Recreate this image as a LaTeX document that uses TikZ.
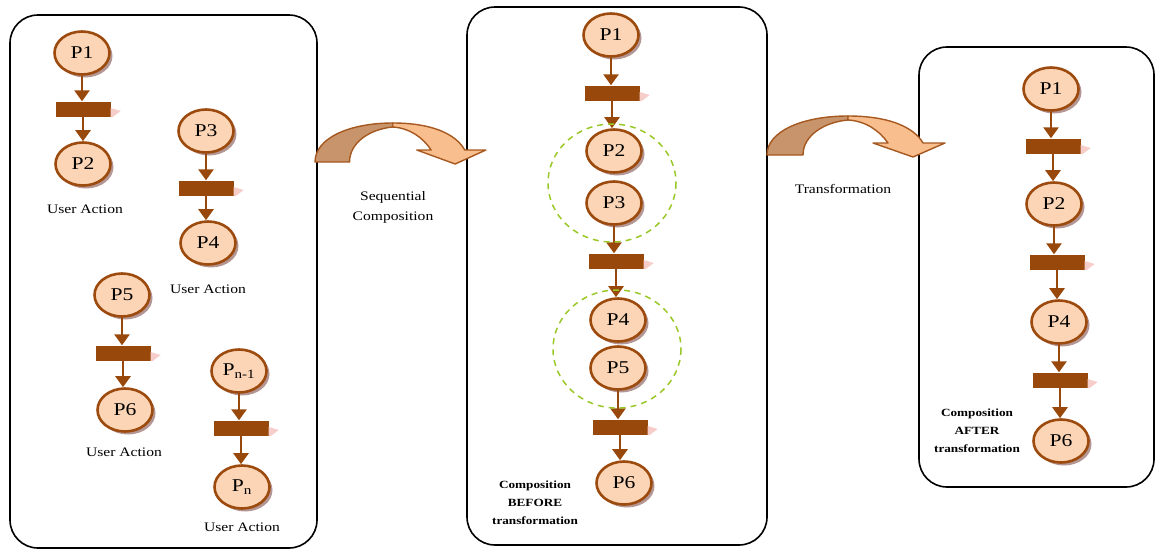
\documentclass[tikz,border=0pt]{standalone}
\usepackage{fontspec}
\setmainfont{Liberation Serif}
\usetikzlibrary{shapes.geometric,arrows.meta,shadows}
\definecolor{peach}{RGB}{251,213,181}
\definecolor{pbrown}{RGB}{156,74,14}
\definecolor{bbrown}{RGB}{152,72,10}
\definecolor{shadowc}{RGB}{180,150,148}
\definecolor{pinkish}{RGB}{246,205,200}
\definecolor{darkband}{RGB}{200,148,107}
\definecolor{lightband}{RGB}{249,190,141}
\definecolor{arrline}{RGB}{165,88,31}
\definecolor{dgreen}{RGB}{154,200,40}
\newcommand\hs[1]{\scalebox{1.2}[1]{#1}}
\begin{document}
\begin{tikzpicture}[x=1pt,y=-1pt,
 place/.style={ellipse, draw=pbrown, line width=2.6pt, fill=peach, minimum width=55pt, minimum height=43pt, inner sep=0pt, font=\fontsize{18}{20}\selectfont, drop shadow={shadow xshift=3pt, shadow yshift=-3pt, fill=shadowc, opacity=1}},
 trans/.style={rectangle, fill=bbrown, minimum width=55pt, minimum height=15pt, inner sep=0pt},
 flow/.style={draw=bbrown, line width=2.6pt, -{Triangle[width=15pt,length=11pt]}},
 lbl/.style={font=\fontsize{13}{20}\selectfont, align=center, inner sep=0pt},
 blbl/.style={font=\fontsize{11}{18}\selectfont\bfseries, align=center, inner sep=0pt},
 panel/.style={draw=black, line width=1.6pt, rounded corners=28pt},
 group/.style={draw=dgreen, line width=1.5pt, dash pattern=on 6pt off 5pt},
 bandline/.style={draw=arrline, line width=1.4pt, line join=round}
 ]
\useasboundingbox (0,0) rectangle (1155,549);

% panels
\draw[panel] (10,15) rectangle (317,548);
\draw[panel] (467,7) rectangle (767,545);
\draw[panel] (919,47) rectangle (1154,487);

% curved block arrows
\begin{scope}[shift={(315,162)}, xscale=0.96]
 \draw[bandline, fill=darkband] (0,0) .. controls (0,-24) and (36,-39) .. (81,-39) -- (81,-35) .. controls (58,-33) and (36,-20) .. (36,0) -- cycle;
 \draw[bandline, fill=lightband] (81,-39) .. controls (120,-39) and (146,-29) .. (156,-12) -- (178,-12) -- (146,2) -- (106,-12) -- (121,-12) .. controls (112,-25) and (98,-34) .. (81,-35) -- cycle;
\end{scope}
\begin{scope}[shift={(767,155)}]
 \draw[bandline, fill=darkband] (0,0) .. controls (0,-24) and (36,-39) .. (81,-39) -- (81,-35) .. controls (58,-33) and (36,-20) .. (36,0) -- cycle;
 \draw[bandline, fill=lightband] (81,-39) .. controls (120,-39) and (146,-29) .. (156,-12) -- (178,-12) -- (146,2) -- (106,-12) -- (121,-12) .. controls (112,-25) and (98,-34) .. (81,-35) -- cycle;
\end{scope}
\node[lbl] (seq) at (393,207) {\hs{Sequential}\\\hs{Composition}};
\node[lbl] (trf) at (843,189) {\hs{Transformation}};

% left panel
\node[place] (a1) at (82,53) {\hs{P1}};
\node[trans] (at1) at (83,109) {};
\node[place] (a2) at (83,164) {\hs{P2}};
\node[lbl] (ua1) at (85,209) {\hs{User Action}};
\node[place] (a3) at (206,131) {\hs{P3}};
\node[trans] (at2) at (206,188) {};
\node[place] (a4) at (208,243) {\hs{P4}};
\node[lbl] (ua2) at (208,289) {\hs{User Action}};
\node[place] (a5) at (122,295) {\hs{P5}};
\node[trans] (at3) at (123,353) {};
\node[place] (a6) at (125,410) {\hs{P6}};
\node[lbl] (ua3) at (124,452) {\hs{User Action}};
\node[place] (a7) at (239,371) {\hs{P\textsubscript{n-1}}};
\node[trans] (at4) at (241,428) {};
\node[place] (a8) at (242,487) {\hs{P\textsubscript{n}}};
\node[lbl] (ua4) at (242,527) {\hs{User Action}};

% middle panel
\node[place] (m1) at (611,35) {\hs{P1}};
\node[trans] (mt1) at (612,93) {};
\node[place] (m2) at (614,151) {\hs{P2}};
\node[place] (m3) at (614,203) {\hs{P3}};
\node[trans] (mt2) at (616,261) {};
\node[place] (m4) at (618,320) {\hs{P4}};
\node[place] (m5) at (618,368) {\hs{P5}};
\node[trans] (mt3) at (620,427) {};
\node[place] (m6) at (624,483) {\hs{P6}};
\node[blbl] (before) at (535,503) {\hs{Composition}\\\hs{BEFORE}\\\hs{transformation}};

% right panel
\node[place] (r1) at (1051,89) {\hs{P1}};
\node[trans] (rt1) at (1053,146) {};
\node[place] (r2) at (1054,204) {\hs{P2}};
\node[trans] (rt2) at (1057,262) {};
\node[place] (r4) at (1059,322) {\hs{P4}};
\node[trans] (rt3) at (1060,380) {};
\node[place] (r6) at (1061,441) {\hs{P6}};
\node[blbl] (after) at (977,431) {\hs{Composition}\\\hs{AFTER}\\\hs{transformation}};

% pink shading beside transitions
\foreach \t in {at1,at2,at3,at4,mt1,mt2,mt3,rt1,rt2,rt3}
 \fill[pinkish] (\t.east) ++(0,-1) -- ++(10,3) -- ++(-8,6) -- ++(-2,0) -- cycle;

% arcs (vertical)
\foreach \p/\t/\q in {a1/at1/a2, a3/at2/a4, a5/at3/a6, a7/at4/a8,
                      m1/mt1/m2, m3/mt2/m4, m5/mt3/m6,
                      r1/rt1/r2, r2/rt2/r4, r4/rt3/r6}{
 \draw[flow] (\p.south) -- (\p.south |- \t.north);
 \draw[flow] (\t.south) -- (\t.south |- \q.north);
}

% groups
\draw[group] (612,183) ellipse [x radius=64, y radius=59];
\draw[group] (617,349) ellipse [x radius=64, y radius=59];
\end{tikzpicture}
\end{document}
